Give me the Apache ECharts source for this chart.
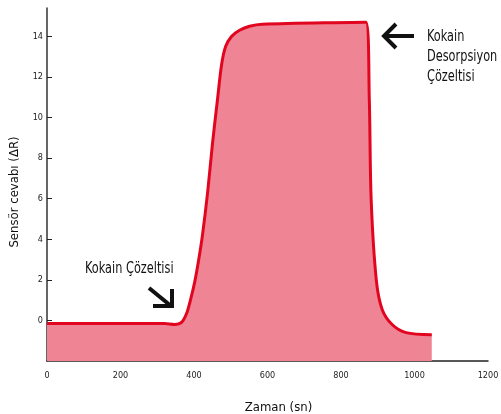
<!DOCTYPE html>
<html>
<head>
<meta charset="utf-8">
<script src="https://cdn.jsdelivr.net/npm/echarts@6/dist/echarts.min.js"></script>
<style>
  html, body { margin: 0; padding: 0; background: #fff; }
  #main { width: 501px; height: 414px; }
</style>
</head>
<body>
<div id="main"></div>
<script>
// time (sn) and sensor response
const zaman = [0, 320, 347, 366, 380, 391, 402, 412, 423, 437, 450, 464, 475, 486, 502, 524, 551, 586, 868, 877, 882, 896, 912, 939, 977, 1047];
const cevap = [-0.15, -0.15, -0.2, -0.1, 0.35, 1.05, 1.9, 2.9, 4.2, 6.3, 8.67, 10.9, 12.6, 13.5, 14.0, 14.3, 14.5, 14.6, 14.7, 10.9, 6.0, 2.0, 0.54, -0.2, -0.6, -0.7];
const yTicks = [0, 2, 4, 6, 8, 10, 12, 14];
const xTicks = [0, 200, 400, 600, 800, 1000, 1200];

const font = "'DejaVu Sans Condensed', 'Liberation Sans', sans-serif";

const chart = echarts.init(document.getElementById('main'), null, { renderer: 'canvas' });

const data = zaman.map((t, i) => [t, cevap[i]]);

chart.setOption({
    animation: false,
    grid: { left: 47, right: 13, top: 8, bottom: 53, outerBoundsMode: 'none' },
    xAxis: {
        type: 'value',
        min: 0,
        max: 1200,
        interval: 200,
        name: 'Zaman (sn)',
        nameLocation: 'middle',
        nameGap: 40,
        nameTextStyle: { fontFamily: font, fontSize: 13, color: '#111', padding: [0, 0, 0, 22] },
        axisLine: { onZero: false, lineStyle: { color: '#222', width: 1.5 } },
        axisTick: { show: false },
        splitLine: { show: false },
        axisLabel: {
            customValues: xTicks,
            formatter: v => String(v),
            margin: 10,
            fontFamily: font,
            fontSize: 9,
            color: '#222'
        }
    },
    yAxis: {
        type: 'value',
        min: -2,
        max: 15.4,
        interval: 2,
        name: 'Sensör cevabı (ΔR)',
        nameLocation: 'middle',
        nameGap: 26,
        nameTextStyle: { fontFamily: font, fontSize: 13, color: '#111', padding: [0, 15, 0, 0] },
        axisLine: { show: true, lineStyle: { color: '#333', width: 1.5 } },
        axisTick: { show: true, inside: true, length: 5, customValues: yTicks, lineStyle: { color: '#222' } },
        splitLine: { show: false },
        axisLabel: {
            customValues: yTicks,
            margin: 4,
            fontFamily: font,
            fontSize: 9,
            color: '#222'
        }
    },
    series: [{
        type: 'line',
        data: data,
        smooth: 0.3,
        symbol: 'none',
        lineStyle: { color: '#e2051f', width: 3 },
        areaStyle: { color: '#ef8495', opacity: 1, origin: 'start' }
    }],
    graphic: [
        {
            type: 'text',
            x: 85,
            y: 262,
            scaleX: 0.84,
            style: { text: 'Kokain Çözeltisi', font: '15px ' + font, fill: '#111' }
        },
        {
            type: 'polyline',
            shape: { points: [[149, 288], [171, 306]] },
            style: { stroke: '#111', lineWidth: 4, fill: null }
        },
        {
            type: 'polyline',
            shape: { points: [[153, 306], [172, 306], [172, 289]] },
            style: { stroke: '#111', lineWidth: 4, fill: null, lineJoin: 'miter' }
        },
        {
            type: 'text',
            x: 427,
            y: 27,
            scaleX: 0.84,
            style: { text: 'Kokain\nDesorpsiyon\nÇözeltisi', font: '15px ' + font, lineHeight: 20, fill: '#111' }
        },
        {
            type: 'polyline',
            shape: { points: [[384, 36], [414, 36]] },
            style: { stroke: '#111', lineWidth: 4, fill: null }
        },
        {
            type: 'polyline',
            shape: { points: [[396, 24], [384, 36], [396, 48]] },
            style: { stroke: '#111', lineWidth: 4, fill: null, lineJoin: 'miter' }
        }
    ]
});
</script>
</body>
</html>
